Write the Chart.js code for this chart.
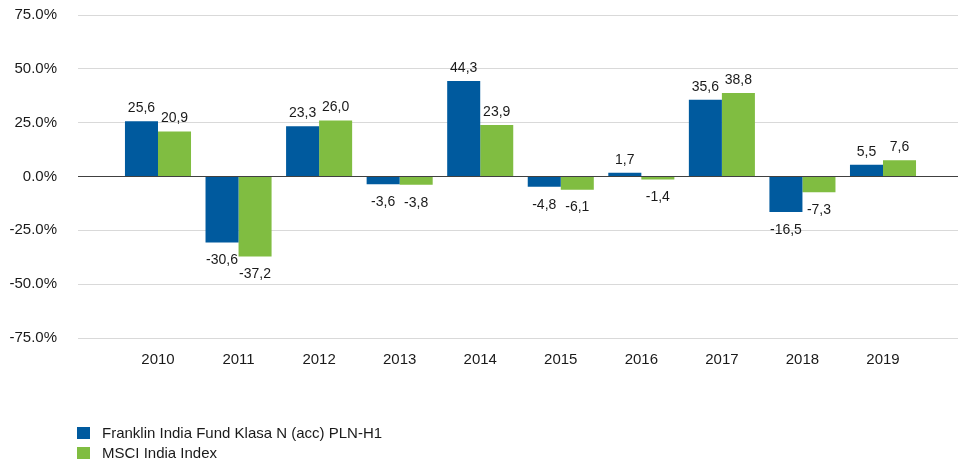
<!DOCTYPE html>
<html>
<head>
<meta charset="utf-8">
<script src="https://cdn.jsdelivr.net/npm/chart.js@4"></script>
<style>
  body { margin: 0; background: #fff; }
  #wrap { position: relative; width: 958px; height: 460px; }
  .lg { position: absolute; left: 77px; font: 15px 'Liberation Sans', Arial, sans-serif; color: #1a1a1a; white-space: nowrap; }
  .lg i { display: inline-block; width: 13px; height: 12px; vertical-align: -1px; margin-right: 12px; }
</style>
</head>
<body>
<div id="wrap">
  <canvas id="myChart" width="958" height="460"></canvas>
  <div id="legend"></div>
</div>
<script>
'use strict';
// chart data
const years = [2010, 2011, 2012, 2013, 2014, 2015, 2016, 2017, 2018, 2019];
const fundValues = [25.6, -30.6, 23.3, -3.6, 44.3, -4.8, 1.7, 35.6, -16.5, 5.5];
const indexValues = [20.9, -37.2, 26.0, -3.8, 23.9, -6.1, -1.4, 38.8, -7.3, 7.6];
const yTicks = [-75, -50, -25, 0, 25, 50, 75];
const seriesNames = ['Franklin India Fund Klasa N (acc) PLN-H1', 'MSCI India Index'];
const colors = ['#005a9e', '#80bd41'];

const FONT = "'Liberation Sans', Arial, sans-serif";
const TEXT = '#1a1a1a';

//Value labels above / below bars
const valueLabels = {
    id: 'valueLabels',
    afterDatasetsDraw(chart) {
        const ctx = chart.ctx;
        ctx.save();
        ctx.font = '14px ' + FONT;
        ctx.fillStyle = TEXT;
        ctx.textAlign = 'center';
        ctx.textBaseline = 'middle';
        chart.data.datasets.forEach((ds, i) => {
            const meta = chart.getDatasetMeta(i);
            meta.data.forEach((bar, j) => {
                const v = ds.data[j].y;
                const txt = v.toFixed(1).replace('.', ',');
                const y = v >= 0 ? bar.y - 13 : bar.y + 18;
                ctx.fillText(txt, bar.x, y);
            });
        });
        ctx.restore();
    },
};

const data = {
    datasets: [
        {
            label: seriesNames[0],
            data: years.map((y, i) => ({ x: y, y: fundValues[i] })),
            backgroundColor: colors[0],
        },
        {
            label: seriesNames[1],
            data: years.map((y, i) => ({ x: y, y: indexValues[i] })),
            backgroundColor: colors[1],
        },
    ],
};

const config = {
    type: 'bar',
    data: data,
    plugins: [valueLabels],
    options: {
        responsive: false,
        animation: false,
        devicePixelRatio: 1,
        layout: {
            padding: { top: 15, right: 0, bottom: 82, left: 0 },
        },
        datasets: {
            bar: {
                categoryPercentage: 0.82,
                barPercentage: 1,
                borderWidth: 0,
            },
        },
        scales: {
            x: {
                type: 'linear',
                offset: false,
                min: 2009.007,
                max: 2019.931,
                grid: { display: false, offset: false },
                border: { display: false },
                afterBuildTicks: (scale) => {
                    scale.ticks = years.map((v) => ({ value: v }));
                },
                afterFit: (scale) => {
                    scale.height = 40;
                    scale.paddingLeft = 0;
                    scale.paddingRight = 0;
                },
                ticks: {
                    padding: 5,
                    color: TEXT,
                    font: { family: FONT, size: 15 },
                    maxRotation: 0,
                    callback: (v) => String(v),
                },
            },
            y: {
                min: -75,
                max: 75,
                afterBuildTicks: (scale) => {
                    scale.ticks = yTicks.map((v) => ({ value: v }));
                },
                afterFit: (scale) => {
                    scale.width = 78;
                    scale.paddingTop = 0;
                    scale.paddingBottom = 0;
                },
                grid: {
                    drawTicks: false,
                    color: (c) => (c.tick && c.tick.value === 0 ? '#404040' : '#d9d9d9'),
                    lineWidth: 1,
                },
                border: { display: false },
                ticks: {
                    padding: 21,
                    color: TEXT,
                    font: { family: FONT, size: 15 },
                    callback: (v) => v.toFixed(1) + '%',
                },
            },
        },
        plugins: {
            legend: { display: false },
            tooltip: { enabled: false },
        },
    },
};

const myChart = new Chart(document.getElementById('myChart'), config);

//legend
let template = '';
seriesNames.forEach((name, i) => {
    template += `<div class="lg" style="top:${424 + i * 20}px"><i style="background:${colors[i]}"></i>${name}</div>`;
});
document.getElementById('legend').innerHTML = template;
</script>
</body>
</html>
